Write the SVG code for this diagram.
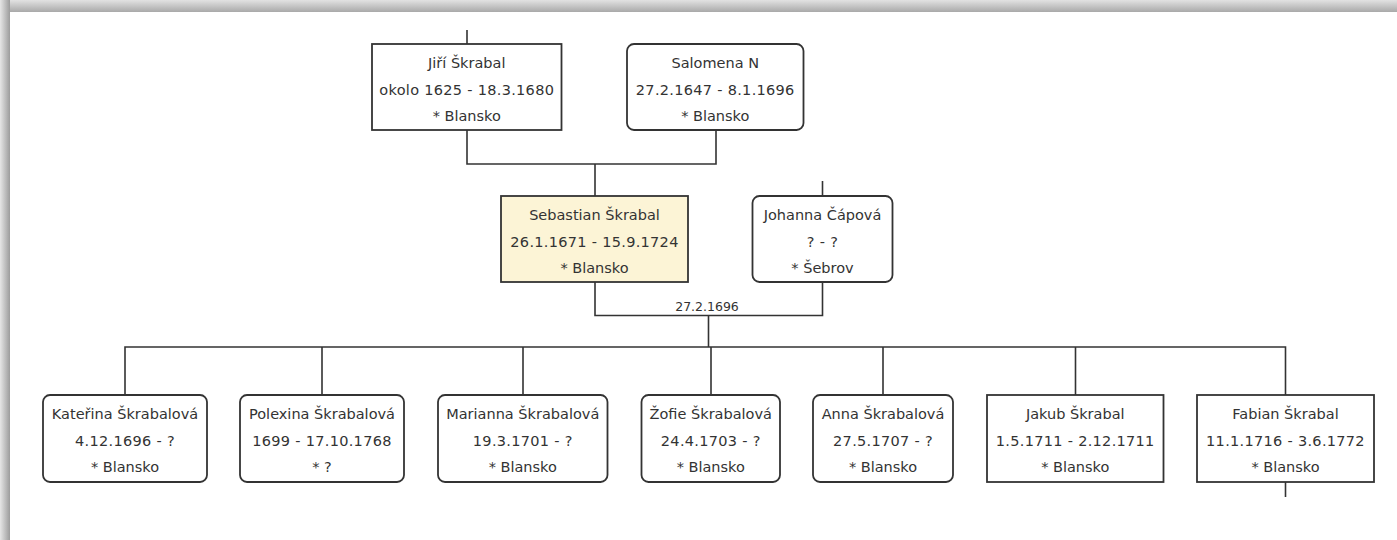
<svg xmlns="http://www.w3.org/2000/svg" width="1397" height="540" viewBox="0 0 1397 540">
<defs>
<linearGradient id="gTop" x1="0" y1="0" x2="0" y2="1">
<stop offset="0" stop-color="#e2e2e2"/>
<stop offset="1" stop-color="#a9a9a9"/>
</linearGradient>
<linearGradient id="gLeft" x1="0" y1="0" x2="1" y2="0">
<stop offset="0" stop-color="#e6e6e6"/>
<stop offset="1" stop-color="#9c9c9c"/>
</linearGradient>
<style>
.box{fill:#fff;stroke:#333;stroke-width:1.8}
.sel{fill:#fcf4d6}
.t{font-family:"DejaVu Sans","Liberation Sans",sans-serif;font-size:14.5px;fill:#333;text-anchor:middle}
.d{letter-spacing:0.3px}
.c{fill:none;stroke:#333;stroke-width:1.6}
.lbl{font-family:"DejaVu Sans","Liberation Sans",sans-serif;font-size:12.5px;fill:#333;text-anchor:middle}
</style>
</defs>
<rect x="0" y="0" width="1397" height="540" fill="#fff"/>
<rect x="0" y="0" width="1397" height="12" fill="url(#gTop)"/>
<rect x="0" y="0" width="10" height="540" fill="url(#gLeft)"/>

<g id="connectors">
<path class="c" d="M467 30V44"/>
<path class="c" d="M467 130V164H716V130M595 164V196"/>
<path class="c" d="M822.5 181V196"/>
<path class="c" d="M595 282V315.5H822.5V282M708.5 315.5V347"/>
<path class="c" d="M125 395V347H1285.5V395M322 347V395M523 347V395M711 347V395M883 347V395M1075.5 347V395"/>
<path class="c" d="M1285.5 482V497"/>
<text class="lbl" x="707" y="311">27.2.1696</text>
</g>

<g id="jiri">
<rect class="box" x="372" y="44" width="189.5" height="86"/>
<text class="t" x="466.75" y="68">Jiří Škrabal</text>
<text class="t d" x="466.75" y="94.5">okolo 1625 - 18.3.1680</text>
<text class="t" x="466.75" y="121">* Blansko</text>
</g>
<g id="salomena">
<rect class="box" x="627" y="44" width="176.5" height="86" rx="7"/>
<text class="t" x="715.25" y="68">Salomena N</text>
<text class="t d" x="715.25" y="94.5">27.2.1647 - 8.1.1696</text>
<text class="t" x="715.25" y="121">* Blansko</text>
</g>
<g id="sebastian">
<rect class="box sel" x="501" y="196" width="187" height="86"/>
<text class="t" x="594.5" y="220">Sebastian Škrabal</text>
<text class="t d" x="594.5" y="246.5">26.1.1671 - 15.9.1724</text>
<text class="t" x="594.5" y="273">* Blansko</text>
</g>
<g id="johanna">
<rect class="box" x="752.5" y="196" width="140" height="86" rx="7"/>
<text class="t" x="822.5" y="220">Johanna Čápová</text>
<text class="t d" x="822.5" y="246.5">? - ?</text>
<text class="t" x="822.5" y="273">* Šebrov</text>
</g>

<g id="katerina">
<rect class="box" x="43" y="395" width="164" height="87" rx="7"/>
<text class="t" x="125" y="419">Kateřina Škrabalová</text>
<text class="t d" x="125" y="446">4.12.1696 - ?</text>
<text class="t" x="125" y="472">* Blansko</text>
</g>
<g id="polexina">
<rect class="box" x="240" y="395" width="164" height="87" rx="7"/>
<text class="t" x="322" y="419">Polexina Škrabalová</text>
<text class="t d" x="322" y="446">1699 - 17.10.1768</text>
<text class="t" x="322" y="472">* ?</text>
</g>
<g id="marianna">
<rect class="box" x="438" y="395" width="169.5" height="87" rx="7"/>
<text class="t" x="522.75" y="419">Marianna Škrabalová</text>
<text class="t d" x="522.75" y="446">19.3.1701 - ?</text>
<text class="t" x="522.75" y="472">* Blansko</text>
</g>
<g id="zofie">
<rect class="box" x="641.5" y="395" width="138.5" height="87" rx="7"/>
<text class="t" x="710.75" y="419">Žofie Škrabalová</text>
<text class="t d" x="710.75" y="446">24.4.1703 - ?</text>
<text class="t" x="710.75" y="472">* Blansko</text>
</g>
<g id="anna">
<rect class="box" x="813" y="395" width="140" height="87" rx="7"/>
<text class="t" x="883" y="419">Anna Škrabalová</text>
<text class="t d" x="883" y="446">27.5.1707 - ?</text>
<text class="t" x="883" y="472">* Blansko</text>
</g>
<g id="jakub">
<rect class="box" x="987" y="395" width="176.5" height="87"/>
<text class="t" x="1075.25" y="419">Jakub Škrabal</text>
<text class="t d" x="1075.25" y="446">1.5.1711 - 2.12.1711</text>
<text class="t" x="1075.25" y="472">* Blansko</text>
</g>
<g id="fabian">
<rect class="box" x="1197" y="395" width="177" height="87"/>
<text class="t" x="1285.5" y="419">Fabian Škrabal</text>
<text class="t d" x="1285.5" y="446">11.1.1716 - 3.6.1772</text>
<text class="t" x="1285.5" y="472">* Blansko</text>
</g>
</svg>
